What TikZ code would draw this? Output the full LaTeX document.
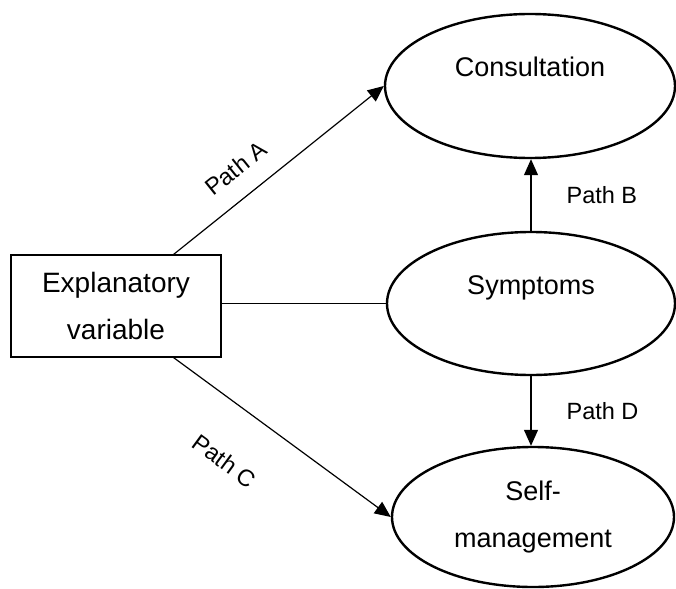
\documentclass[tikz,border=0pt]{standalone}
\usepackage{fontspec}
\setmainfont{Liberation Sans}
\usetikzlibrary{shapes.geometric,arrows.meta}
\begin{document}
\begin{tikzpicture}[x=1pt,y=1pt,
  oval/.style={ellipse, draw, line width=2.4pt, inner sep=0pt,
    font=\fontsize{27}{47}\selectfont, align=center},
  oneline/.style={text height=12pt, text depth=30pt},
  varbox/.style={rectangle, draw, line width=1.2pt, minimum width=210pt,
    minimum height=102pt, inner sep=0pt,
    font=\fontsize{28}{47}\selectfont, align=center},
  link/.style={line width=1.2pt},
  arrowlink/.style={link, -{Triangle[length=16pt,width=14pt]}},
  pathlbl/.style={font=\fontsize{23.5}{28}\selectfont, inner sep=0pt}]
\useasboundingbox (0,0) rectangle (676,-588);

% explanatory variable and the three outcome ovals
\node[varbox] (expl) at (116,-306) {Explanatory\\variable};
\node[oval, oneline, minimum width=290pt, minimum height=144pt] (cons) at (530,-86) {Consultation};
\node[oval, oneline, minimum width=288pt, minimum height=143pt] (symp) at (531,-303.5) {Symptoms};
\node[oval, minimum width=282pt, minimum height=140pt] (self) at (533,-517) {Self-\\management};

% paths
\draw[arrowlink] ([xshift=-48pt]expl.north east) -- (cons.west)
  node[pathlbl, sloped, pos=0.38, above=19pt] {Path A};
\draw[arrowlink] ([xshift=-48pt]expl.south east) -- (self.west)
  node[pathlbl, sloped, pos=0.38, below=44pt] {Path C};
\draw[link] (expl.east |- symp.west) -- (symp.west);
\draw[arrowlink] (symp.north) -- (symp.north |- cons.south)
  node[pathlbl, pos=0.5, right=35pt] {Path B};
\draw[arrowlink] (symp.south) -- (symp.south |- self.north)
  node[pathlbl, pos=0.5, right=35pt] {Path D};
\end{tikzpicture}
\end{document}
